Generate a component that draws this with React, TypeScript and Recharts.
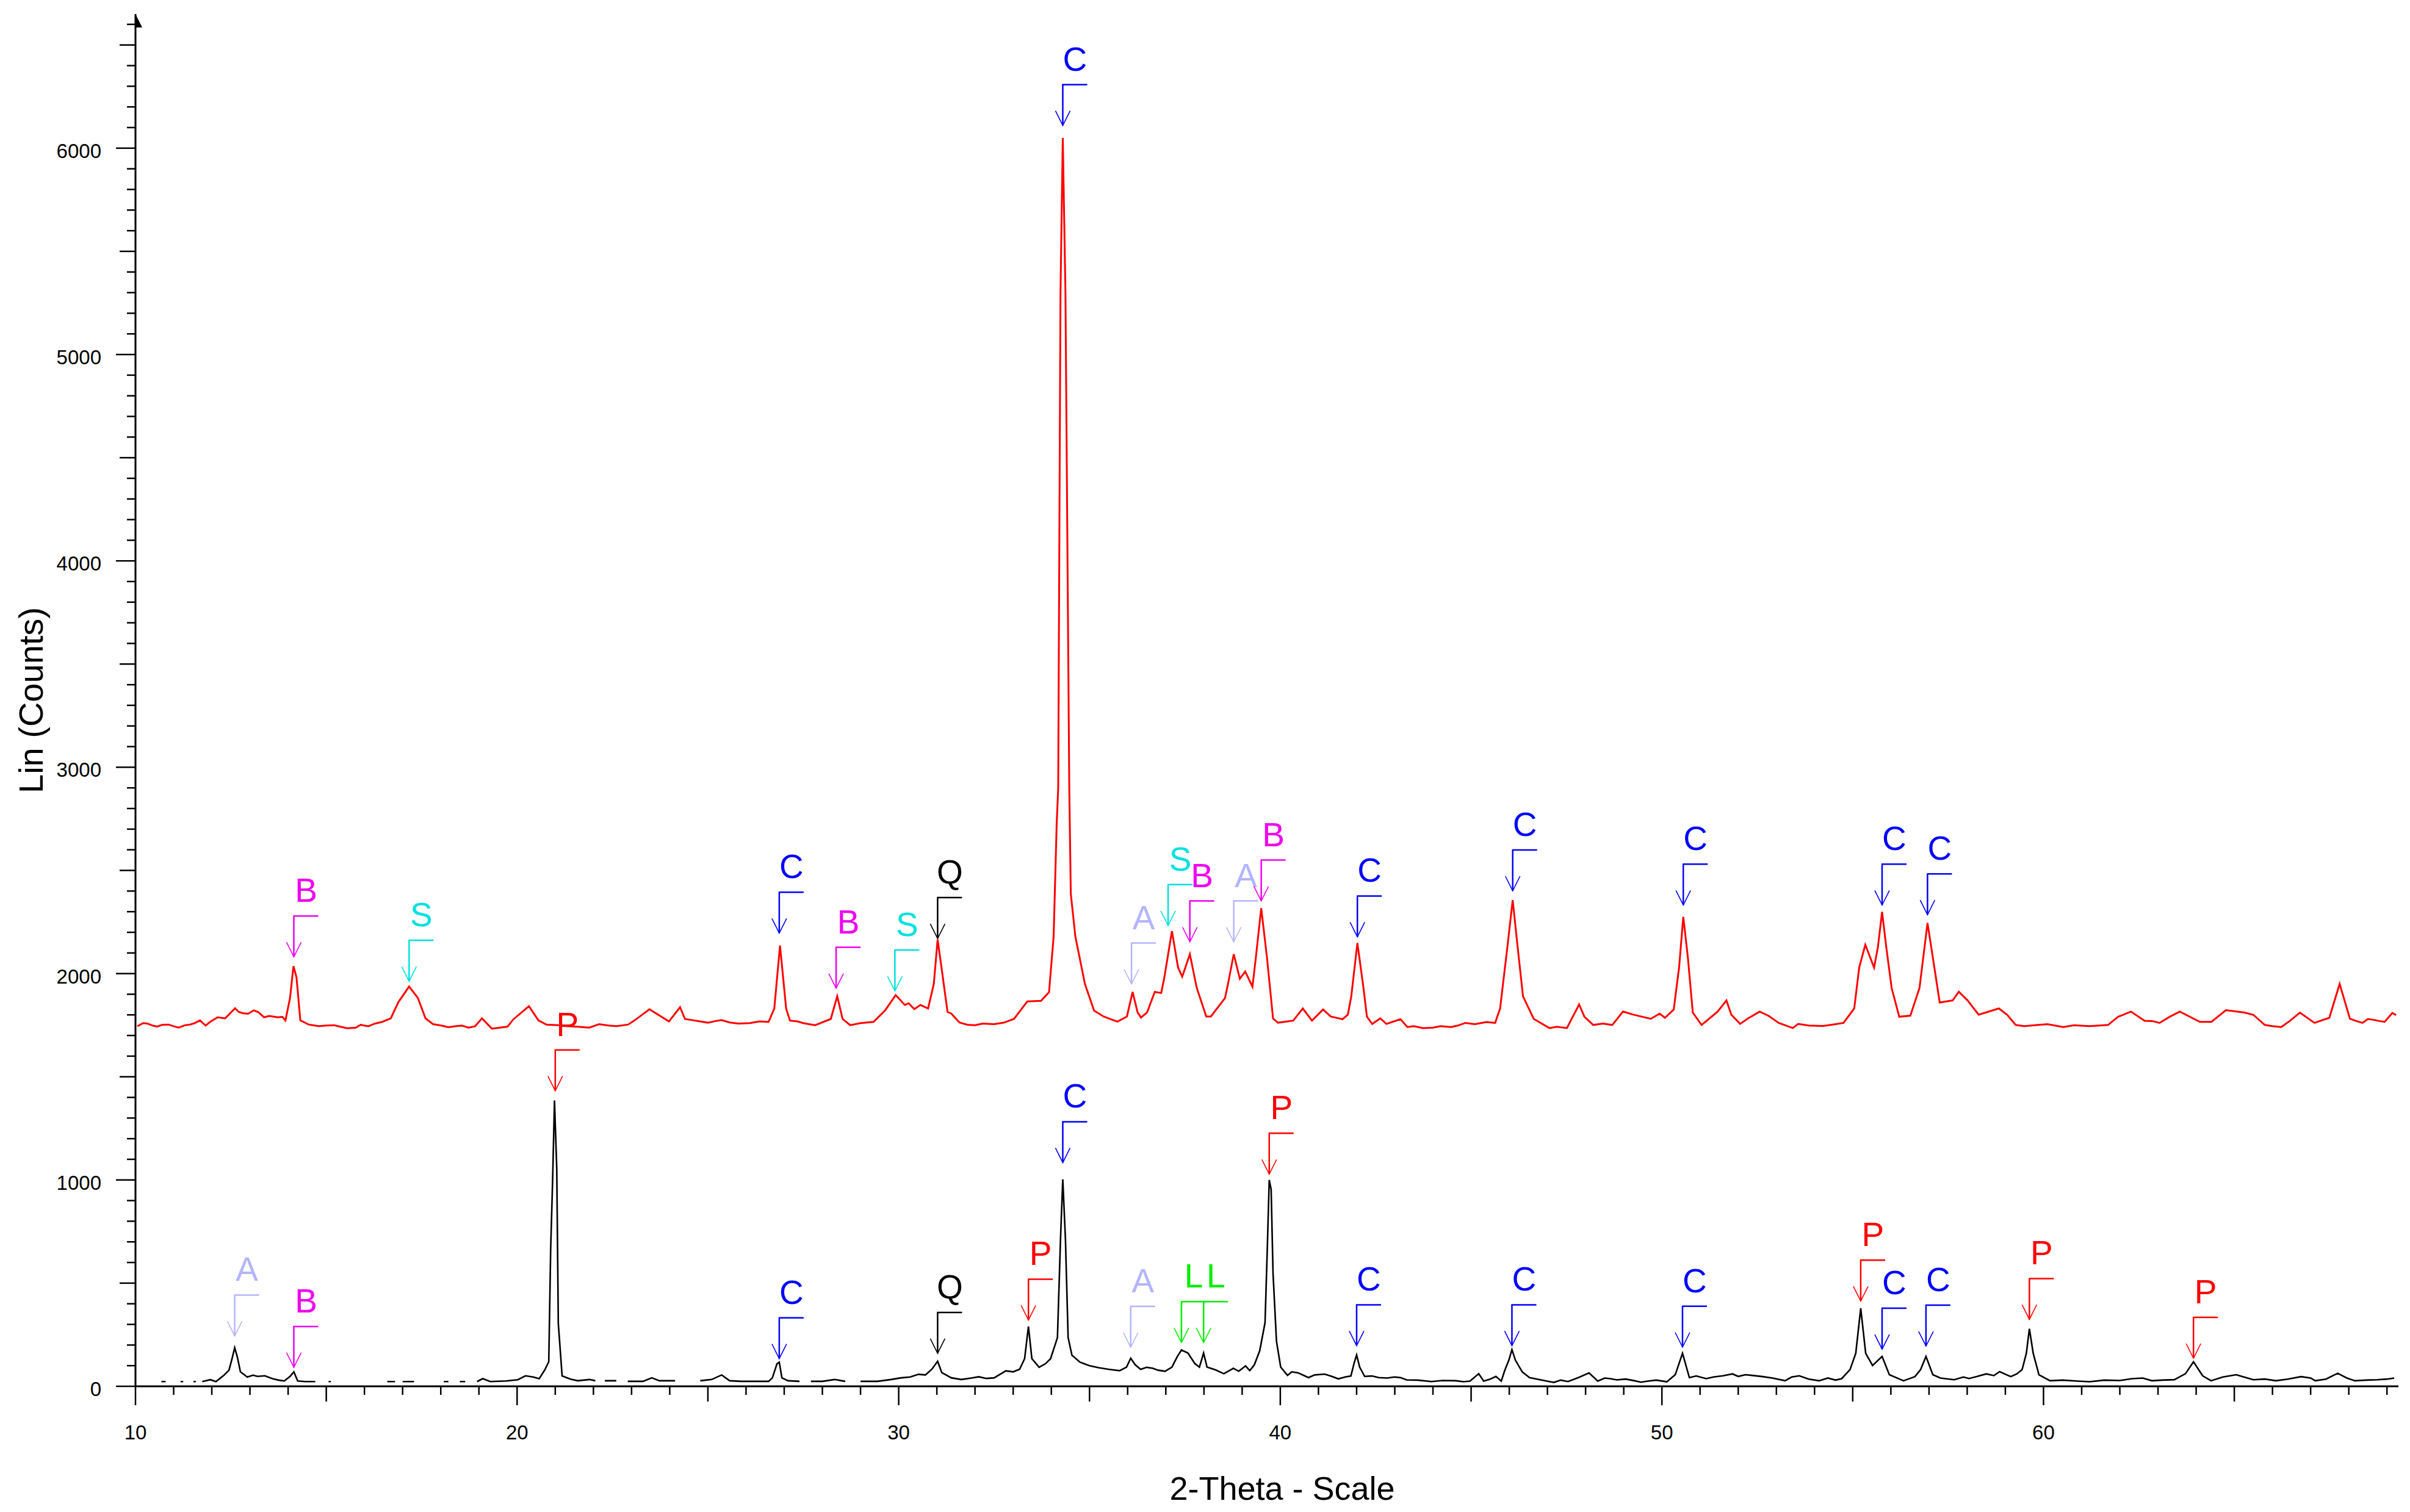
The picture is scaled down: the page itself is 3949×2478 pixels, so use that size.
import React from "react";
import { LineChart, Line, XAxis, YAxis, ReferenceDot } from "recharts";

// 2-theta / counts
const redTrace: [number, number][] = [
  [10.05, 1745], [10.2, 1760], [10.31, 1758], [10.45, 1748], [10.57, 1743], [10.7, 1752],
  [10.87, 1753], [11.0, 1745], [11.13, 1738], [11.3, 1750], [11.43, 1753], [11.55, 1760],
  [11.69, 1773], [11.84, 1748], [11.95, 1765], [12.15, 1788], [12.35, 1783], [12.61, 1832],
  [12.7, 1815], [12.81, 1808], [12.95, 1805], [13.1, 1822], [13.22, 1813], [13.37, 1788],
  [13.5, 1795], [13.73, 1788], [13.85, 1790], [13.93, 1773], [14.05, 1882], [14.14, 2036],
  [14.22, 1981], [14.32, 1773], [14.54, 1753], [14.8, 1745], [15.0, 1748], [15.2, 1750],
  [15.36, 1743], [15.55, 1735], [15.77, 1738], [15.9, 1752], [16.1, 1745], [16.28, 1758],
  [16.45, 1765], [16.69, 1783], [16.89, 1862], [17.17, 1937], [17.4, 1882], [17.6, 1783],
  [17.8, 1755], [18.01, 1748], [18.2, 1740], [18.4, 1745], [18.55, 1748], [18.73, 1738],
  [18.9, 1745], [19.08, 1783], [19.34, 1733], [19.75, 1743], [19.9, 1778], [20.31, 1842],
  [20.56, 1773], [20.77, 1753], [21.1, 1750], [21.3, 1745], [21.6, 1742], [21.89, 1738],
  [22.15, 1755], [22.4, 1748], [22.6, 1745], [22.91, 1753], [23.05, 1770], [23.2, 1790],
  [23.47, 1827], [23.98, 1768], [24.27, 1837], [24.4, 1780], [24.64, 1773], [25.0, 1762],
  [25.2, 1770], [25.36, 1775], [25.57, 1763], [25.8, 1758], [26.1, 1760], [26.35, 1768],
  [26.59, 1766], [26.74, 1831], [26.89, 2136], [27.05, 1831], [27.15, 1772], [27.35, 1768],
  [27.5, 1760], [27.65, 1755], [27.81, 1750], [28.22, 1780], [28.39, 1890], [28.53, 1780],
  [28.73, 1750], [29.0, 1760], [29.34, 1766], [29.65, 1823], [29.92, 1896], [30.16, 1848],
  [30.26, 1856], [30.41, 1828], [30.57, 1848], [30.77, 1831], [30.92, 1950], [31.02, 2165],
  [31.13, 2018], [31.28, 1814], [31.38, 1806], [31.59, 1763], [31.8, 1752], [32.0, 1750],
  [32.2, 1758], [32.5, 1755], [32.75, 1762], [33.02, 1780], [33.37, 1865], [33.73, 1868],
  [33.94, 1910], [34.06, 2179], [34.14, 2724], [34.18, 2900], [34.24, 5300], [34.3, 6050],
  [34.37, 5300], [34.47, 2900], [34.51, 2387], [34.63, 2179], [34.88, 1950], [35.12, 1821],
  [35.37, 1792], [35.73, 1767], [35.98, 1792], [36.13, 1911], [36.26, 1812], [36.35, 1787],
  [36.51, 1812], [36.71, 1911], [36.88, 1906], [36.96, 1980], [37.16, 2206], [37.32, 2030],
  [37.43, 1985], [37.63, 2094], [37.81, 1931], [38.06, 1792], [38.18, 1792], [38.55, 1881],
  [38.63, 1950], [38.78, 2094], [38.94, 1975], [39.08, 2010], [39.27, 1936], [39.36, 2079],
  [39.5, 2317], [39.65, 2079], [39.81, 1782], [39.94, 1762], [40.34, 1772], [40.59, 1831],
  [40.83, 1772], [41.12, 1826], [41.32, 1792], [41.63, 1779], [41.77, 1801], [41.86, 1890],
  [42.02, 2148], [42.18, 1930], [42.27, 1791], [42.41, 1756], [42.62, 1783], [42.78, 1756],
  [43.15, 1779], [43.33, 1741], [43.5, 1745], [43.74, 1736], [44.0, 1738], [44.2, 1745],
  [44.48, 1741], [44.65, 1748], [44.85, 1761], [45.1, 1755], [45.4, 1765], [45.63, 1761],
  [45.76, 1831], [45.95, 2128], [46.09, 2356], [46.22, 2128], [46.36, 1890], [46.64, 1781],
  [47.05, 1736], [47.25, 1742], [47.51, 1736], [47.83, 1850], [47.97, 1791], [48.2, 1751],
  [48.45, 1758], [48.7, 1751], [48.98, 1816], [49.25, 1801], [49.71, 1781], [49.94, 1806],
  [50.08, 1786], [50.31, 1826], [50.45, 2029], [50.56, 2275], [50.68, 2079], [50.81, 1811],
  [51.04, 1751], [51.46, 1816], [51.69, 1870], [51.82, 1801], [52.05, 1756], [52.24, 1781],
  [52.56, 1816], [52.8, 1795], [53.06, 1761], [53.43, 1736], [53.57, 1756], [53.85, 1748],
  [54.21, 1746], [54.45, 1752], [54.76, 1761], [55.04, 1831], [55.17, 2029], [55.33, 2140],
  [55.56, 2029], [55.66, 2128], [55.77, 2299], [55.88, 2128], [56.02, 1930], [56.22, 1791],
  [56.51, 1796], [56.75, 1930], [56.96, 2245], [57.14, 2029], [57.28, 1860], [57.62, 1870],
  [57.78, 1912], [58.01, 1870], [58.3, 1801], [58.83, 1831], [59.05, 1800], [59.27, 1751],
  [59.5, 1745], [59.85, 1751], [60.1, 1755], [60.52, 1741], [60.8, 1750], [61.2, 1745],
  [61.69, 1751], [61.95, 1790], [62.29, 1816], [62.65, 1771], [62.85, 1770], [63.04, 1761],
  [63.3, 1790], [63.57, 1816], [64.1, 1766], [64.4, 1766], [64.78, 1823], [65.27, 1811],
  [65.5, 1800], [65.8, 1751], [66.0, 1745], [66.23, 1741], [66.45, 1770], [66.72, 1811],
  [67.1, 1761], [67.49, 1786], [67.76, 1950], [68.03, 1781], [68.2, 1770], [68.36, 1761],
  [68.5, 1780], [68.65, 1776], [68.8, 1770], [68.94, 1766], [69.14, 1809], [69.24, 1799],
];

// null = gap in the recorded trace
const blackTrace: [number, number | null][] = [
  [10.68, 23], [10.79, 23], [10.85, null], [11.18, 23], [11.25, 23], [11.35, null],
  [11.52, 23], [11.58, 23], [11.65, null], [11.75, 23], [11.96, 32], [12.11, 23],
  [12.32, 54], [12.45, 78], [12.54, 141], [12.6, 187], [12.67, 141], [12.75, 70],
  [12.93, 45], [13.08, 54], [13.2, 48], [13.39, 51], [13.59, 37], [13.75, 30], [13.9, 26],
  [14.05, 48], [14.15, 70], [14.25, 26], [14.45, 23], [14.71, 23], [14.8, null],
  [15.06, 23], [15.12, 23], [15.2, null], [16.6, 23], [16.8, 23], [16.9, null],
  [17.0, 23], [17.3, 23], [17.4, null], [18.08, 23], [18.2, 23], [18.3, null],
  [18.5, 23], [18.64, 23], [18.75, null], [18.95, 23], [19.1, 37], [19.3, 23],
  [19.71, 26], [20.02, 32], [20.22, 51], [20.42, 45], [20.58, 37], [20.73, 81],
  [20.83, 119], [20.88, 664], [20.93, 991], [20.98, 1385], [21.04, 1050], [21.08, 304],
  [21.18, 50], [21.4, 35], [21.59, 27], [21.9, 33], [22.05, 27], [22.15, null],
  [22.3, 27], [22.6, 27], [22.7, null], [22.9, 24], [23.3, 24], [23.53, 41], [23.73, 27],
  [24.14, 27], [24.3, null], [24.8, 27], [25.1, 33], [25.36, 55], [25.57, 27], [25.87, 24],
  [26.59, 24], [26.69, 41], [26.81, 109], [26.87, 117], [26.94, 41], [27.1, 27], [27.4, 24],
  [27.5, null], [27.7, 24], [28.0, 24], [28.32, 33], [28.6, 24], [28.7, null], [29.0, 24],
  [29.44, 24], [29.8, 33], [30.06, 41], [30.3, 45], [30.52, 58], [30.7, 55], [30.87, 83],
  [31.02, 121], [31.13, 66], [31.38, 41], [31.64, 33], [31.9, 40], [32.1, 46], [32.3, 38],
  [32.5, 41], [32.81, 75], [33.0, 70], [33.17, 83], [33.3, 134], [33.4, 290], [33.49, 134],
  [33.68, 92], [33.85, 110], [33.98, 134], [34.16, 236], [34.24, 711], [34.3, 1003],
  [34.37, 711], [34.44, 236], [34.54, 151], [34.75, 117], [35.0, 100], [35.24, 90],
  [35.51, 82], [35.79, 76], [35.97, 93], [36.08, 136], [36.2, 104], [36.34, 82], [36.5, 92],
  [36.66, 87], [36.8, 78], [36.98, 73], [37.16, 93], [37.3, 144], [37.41, 176], [37.58, 161],
  [37.76, 110], [37.88, 93], [37.99, 161], [38.08, 93], [38.31, 79], [38.52, 61], [38.77, 87],
  [38.91, 73], [39.09, 99], [39.2, 76], [39.32, 104], [39.46, 172], [39.6, 308], [39.66, 671],
  [39.71, 1000], [39.76, 954], [39.81, 546], [39.9, 218], [40.01, 93], [40.19, 53],
  [40.3, 70], [40.47, 65], [40.74, 42], [40.9, 55], [41.16, 59], [41.35, 48], [41.52, 36],
  [41.7, 45], [41.85, 50], [41.94, 116], [42.0, 152], [42.08, 93], [42.21, 48], [42.4, 50],
  [42.58, 42], [42.8, 40], [42.99, 45], [43.15, 42], [43.31, 31], [43.6, 30], [43.96, 23],
  [44.25, 28], [44.6, 27], [44.8, 22], [44.97, 25], [45.2, 61], [45.33, 25], [45.5, 35],
  [45.65, 48], [45.79, 25], [45.88, 76], [45.99, 127], [46.07, 178], [46.16, 127], [46.34, 70],
  [46.53, 42], [46.99, 25], [47.17, 19], [47.35, 30], [47.54, 23], [47.81, 42], [48.09, 65],
  [48.32, 25], [48.5, 40], [48.65, 37], [48.82, 31], [49.05, 35], [49.28, 27], [49.45, 20],
  [49.63, 25], [49.85, 30], [50.13, 22], [50.35, 56], [50.54, 160], [50.72, 42], [50.9, 50],
  [51.16, 37], [51.35, 45], [51.6, 51], [51.85, 60], [52.0, 48], [52.19, 56], [52.4, 52],
  [52.64, 47], [52.9, 40], [53.23, 27], [53.4, 45], [53.6, 51], [53.85, 35], [54.12, 27],
  [54.35, 40], [54.55, 30], [54.71, 37], [54.93, 81], [55.08, 160], [55.21, 378], [55.34, 160],
  [55.52, 101], [55.77, 145], [55.96, 56], [56.33, 27], [56.63, 47], [56.78, 81], [56.92, 145],
  [57.1, 56], [57.3, 40], [57.66, 32], [57.9, 45], [58.05, 38], [58.25, 47], [58.5, 60],
  [58.7, 52], [58.85, 71], [59.14, 47], [59.3, 60], [59.44, 81], [59.55, 160], [59.63, 279],
  [59.73, 160], [59.88, 56], [60.17, 27], [60.5, 30], [60.9, 25], [61.21, 22], [61.6, 30],
  [62.0, 28], [62.32, 37], [62.6, 40], [62.84, 27], [63.1, 30], [63.43, 32], [63.72, 61],
  [63.93, 119], [64.17, 51], [64.39, 27], [64.7, 45], [65.05, 56], [65.25, 45], [65.5, 32],
  [65.8, 35], [66.09, 27], [66.4, 35], [66.75, 47], [67.0, 40], [67.12, 27], [67.4, 35],
  [67.71, 63], [67.95, 40], [68.16, 27], [68.45, 30], [68.75, 32], [69.0, 35], [69.19, 40],
];

// phase letter, 2-theta, counts at the arrow tip
const redMarkers: [string, number, number][] = [
  ["B", 14.15, 2081], ["S", 17.17, 1963], ["C", 26.87, 2196], ["B", 28.36, 1929],
  ["S", 29.9, 1916], ["Q", 31.02, 2170], ["C", 34.3, 6110], ["A", 36.1, 1950],
  ["S", 37.06, 2233], ["B", 37.63, 2154], ["A", 38.78, 2154], ["B", 39.5, 2352],
  ["C", 42.02, 2178], ["C", 46.09, 2401], ["C", 50.56, 2332], ["C", 55.77, 2332],
  ["C", 56.96, 2285],
];

const blackMarkers: [string, number, number][] = [
  ["A", 12.6, 244], ["B", 14.15, 92], ["P", 21.0, 1432], ["C", 26.87, 134],
  ["Q", 31.02, 160], ["P", 33.4, 321], ["C", 34.3, 1084], ["A", 36.08, 189],
  ["L", 37.41, 212], ["L", 37.99, 212], ["P", 39.71, 1028], ["C", 42.0, 197],
  ["C", 46.07, 197], ["C", 50.54, 190], ["P", 55.21, 413], ["C", 55.77, 180],
  ["C", 56.92, 195], ["P", 59.63, 324], ["P", 63.93, 136],
];

const xTicks = Array.from({ length: 60 }, (_, i) => 10 + i);
const yTicks = Array.from({ length: 67 }, (_, i) => i * 100);

const phaseColors: Record<string, string> = {
  C: "#0000FF",
  B: "#EE00EE",
  S: "#00E0E0",
  A: "#B4B4FF",
  Q: "#000000",
  P: "#FF0000",
  L: "#00EE00",
};

const FONT = "'Liberation Sans', Arial, sans-serif";

const redData = redTrace.map(([x, y]) => ({ x, y }));
const blackData = blackTrace.map(([x, y]) => ({ x, y }));

function PhaseMarker({ cx, cy, phase }: { cx: number; cy: number; phase: string }) {
  const c = phaseColors[phase];
  const top = cy - 67;
  return (
    <g>
      <line x1={cx} y1={top} x2={cx} y2={cy} stroke={c} strokeWidth={2.5} />
      <line x1={cx - 1} y1={top} x2={cx + 40} y2={top} stroke={c} strokeWidth={2.5} />
      <polyline
        points={`${cx - 12},${cy - 24} ${cx},${cy} ${cx + 12},${cy - 24}`}
        fill="none"
        stroke={c}
        strokeWidth={1.6}
      />
      <text x={cx + 20} y={top - 23} textAnchor="middle" fill={c} fontSize={55} fontFamily={FONT}>
        {phase}
      </text>
    </g>
  );
}

function XTick(props: any) {
  const { x, y, payload } = props;
  const v = payload.value;
  const len = v % 10 === 0 ? 31 : v % 5 === 0 ? 25 : 14;
  return (
    <g>
      <line x1={x} y1={y} x2={x} y2={y + len} stroke="#000" strokeWidth={2.5} />
      {v % 10 === 0 && (
        <text x={x} y={y + 87} textAnchor="middle" fontSize={33} fontFamily={FONT} fill="#000">
          {v}
        </text>
      )}
    </g>
  );
}

function YTick(props: any) {
  const { x, y, payload } = props;
  const v = payload.value;
  const len = v % 1000 === 0 ? 32 : v % 500 === 0 ? 26 : 14;
  return (
    <g>
      <line x1={x - len} y1={y} x2={x} y2={y} stroke="#000" strokeWidth={2.5} />
      {v % 1000 === 0 && (
        <text x={x - 56} y={y + 16} textAnchor="end" fontSize={33} fontFamily={FONT} fill="#000">
          {v}
        </text>
      )}
    </g>
  );
}

function XTitle({ viewBox }: any) {
  return (
    <text x={viewBox.x + viewBox.width / 2 + 25} y={viewBox.y + 186} textAnchor="middle" fontSize={54} fontFamily={FONT} fill="#000">
      2-Theta - Scale
    </text>
  );
}

function YTitle({ viewBox }: any) {
  const cx = viewBox.x + 50;
  const cy = viewBox.y + viewBox.height / 2;
  return (
    <text
      x={cx}
      y={cy}
      transform={`rotate(-90 ${cx} ${cy})`}
      textAnchor="middle"
      dominantBaseline="central"
      fontSize={56}
      fontFamily={FONT}
      fill="#000"
    >
      Lin (Counts)
    </text>
  );
}

export default function App() {
  return (
    <div style={{ position: "absolute", left: 0, top: 0, width: 3949, height: 2478, background: "#fff" }}>
      <LineChart width={3949} height={2478} margin={{ top: 23, right: 19, bottom: 0, left: 0 }}>
        <XAxis
          type="number"
          dataKey="x"
          domain={[10, 69.3]}
          allowDataOverflow
          ticks={xTicks}
          interval={0}
          tickSize={0}
          tickMargin={0}
          tick={XTick}
          height={206}
          axisLine={{ stroke: "#000", strokeWidth: 3 }}
          label={<XTitle />}
        />
        <YAxis
          type="number"
          domain={[0, 6650]}
          allowDataOverflow
          ticks={yTicks}
          interval={0}
          tickSize={0}
          tickMargin={0}
          tick={YTick}
          width={222}
          axisLine={{ stroke: "#000", strokeWidth: 3 }}
          label={<YTitle />}
        />
        <Line
          data={redData}
          dataKey="y"
          type="linear"
          stroke="#FF0000"
          strokeWidth={3}
          dot={false}
          activeDot={false}
          isAnimationActive={false}
        />
        <Line
          data={blackData}
          dataKey="y"
          type="linear"
          stroke="#000000"
          strokeWidth={2.6}
          dot={false}
          activeDot={false}
          connectNulls={false}
          isAnimationActive={false}
        />
        <ReferenceDot
          x={10}
          y={6650}
          ifOverflow="visible"
          shape={(p: any) => (
            <polygon points={`${p.cx},${p.cy} ${p.cx},${p.cy + 22} ${p.cx + 11},${p.cy + 22}`} fill="#000" />
          )}
        />
        {redMarkers.map(([phase, x, y], i) => (
          <ReferenceDot
            key={`r${i}`}
            x={x}
            y={y}
            ifOverflow="visible"
            shape={(p: any) => <PhaseMarker cx={p.cx} cy={p.cy} phase={phase} />}
          />
        ))}
        {blackMarkers.map(([phase, x, y], i) => (
          <ReferenceDot
            key={`b${i}`}
            x={x}
            y={y}
            ifOverflow="visible"
            shape={(p: any) => <PhaseMarker cx={p.cx} cy={p.cy} phase={phase} />}
          />
        ))}
      </LineChart>
    </div>
  );
}
